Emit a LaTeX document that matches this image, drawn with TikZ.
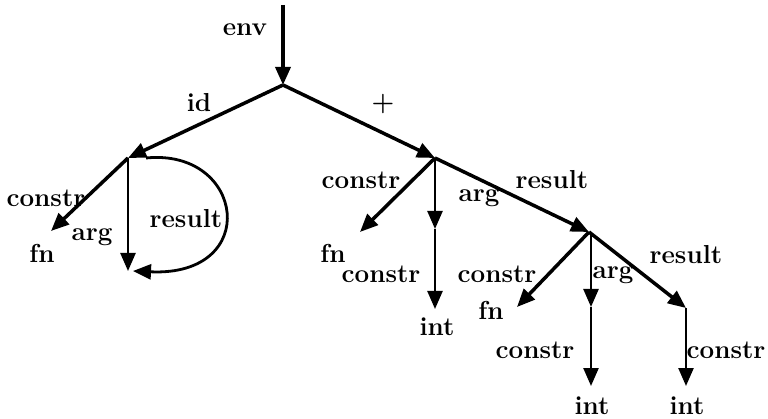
\documentclass[tikz,border=0pt]{standalone}
\usetikzlibrary{arrows.meta}
\begin{document}
\begin{tikzpicture}[x=1pt,y=-1pt,
  lbl/.style={font=\fontsize{26}{26}\selectfont\bfseries, inner sep=0pt},
  edge/.style={line width=3.5pt, -{Triangle[length=18pt,width=15pt]}},
  vedge/.style={line width=2.4pt, -{Triangle[length=18pt,width=15pt]}},
  pt/.style={inner sep=0pt, minimum size=0pt}]
\useasboundingbox (0,0) rectangle (768,419);
% points
\coordinate (top) at (283,5);
\coordinate (R) at (283,85);
\coordinate (A) at (128,158);
\coordinate (B) at (435,158);
\coordinate (C) at (589,232);
\coordinate (D) at (686,308);
\coordinate (fnA) at (51,231);
\coordinate (A2) at (128,271);
\coordinate (fnB) at (360,232);
\coordinate (B2) at (435,229);
\coordinate (intB) at (435,309);
\coordinate (fnC) at (517,307);
\coordinate (C2) at (591,307);
\coordinate (intC) at (591,386);
\coordinate (intD) at (686,386);
% edges
\draw[edge] (top) -- (R);
\draw[edge] (R) -- (A);
\draw[edge] (R) -- (B);
\draw[edge] (A) -- (fnA);
\draw[vedge] (A) -- (A2);
\draw[line width=2.8pt, -{Triangle[length=18pt,width=15pt]}] ([xshift=18pt]A) .. controls (245,148) and (262,277) .. ([xshift=5pt]A2);
\draw[edge] (B) -- (fnB);
\draw[vedge] (B) -- (B2);
\draw[vedge] (B2) -- (intB);
\draw[edge] (B) -- (C);
\draw[edge] (C) -- (fnC);
\draw[vedge] ([xshift=2pt]C) -- (C2);
\draw[vedge] (C2) -- (intC);
\draw[edge] (C) -- (D);
\draw[vedge] (D) -- (intD);
% labels
\node[lbl] (lenv) at (245,30) {env};
\node[lbl] (lid) at (199,103) {id};
\node[lbl] (lplus) at (383,104) {+};
\node[lbl] (lcA) at (46,198) {constr};
\node[lbl] (largA) at (92,237) {arg};
\node[lbl] (lresA) at (186,219) {result};
\node[lbl] (tfnA) at (42,253) {fn};
\node[lbl] (lcB) at (361,180) {constr};
\node[lbl] (largB) at (479,198) {arg};
\node[lbl] (lresB) at (552,180) {result};
\node[lbl] (tfnB) at (333,253) {fn};
\node[lbl] (lcB2) at (381,274) {constr};
\node[lbl] (tintB) at (437,327) {int};
\node[lbl] (lcC) at (497,274) {constr};
\node[lbl] (largC) at (613,275) {arg};
\node[lbl] (lresC) at (686,255) {result};
\node[lbl] (tfnC) at (491,310) {fn};
\node[lbl] (lcC2) at (535,350) {constr};
\node[lbl] (tintC) at (592,406) {int};
\node[lbl] (lcD) at (726,350) {constr};
\node[lbl] (tintD) at (687,406) {int};
\end{tikzpicture}
\end{document}
